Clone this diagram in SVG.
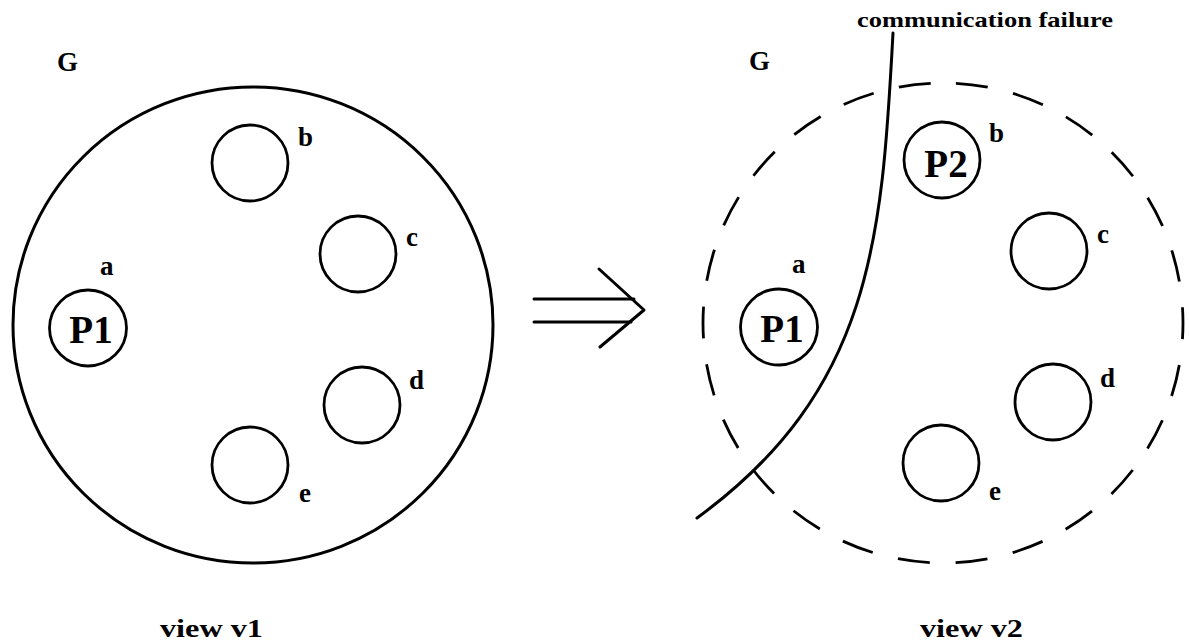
<svg xmlns="http://www.w3.org/2000/svg" width="1189" height="642" viewBox="0 0 1189 642">
<style>
  .bg { fill: #ffffff; }
  .node { fill: none; stroke: #000; stroke-width: 2.8; }
  .outer { fill: none; stroke: #000; stroke-width: 3; }
  .dashed { fill: none; stroke: #000; stroke-width: 2.8; stroke-dasharray: 32 26; stroke-dashoffset: 45; }
  .line { fill: none; stroke: #000; stroke-width: 3; stroke-linecap: round; stroke-linejoin: round; }
  text { font-family: "Liberation Serif", "Times New Roman", serif; font-weight: bold; fill: #000; }
  .lbl { font-size: 27px; }
  .proc { font-size: 39px; text-anchor: middle; }
  .cap { font-size: 26px; }
  .note { font-size: 21px; }
</style>
<rect class="bg" x="0" y="0" width="1189" height="642"/>

<!-- View v1 -->
<g id="view-v1">
  <text class="lbl" x="57" y="71">G</text>
  <ellipse id="group-G1" class="outer" cx="253" cy="325" rx="240" ry="238"/>
  <g id="v1-node-a">
    <ellipse class="node" cx="88" cy="328" rx="38.5" ry="38"/>
    <text class="proc" x="91" y="343">P1</text>
    <text class="lbl" x="100" y="275">a</text>
  </g>
  <g id="v1-node-b">
    <circle class="node" cx="250" cy="163" r="38"/>
    <text class="lbl" x="298" y="146">b</text>
  </g>
  <g id="v1-node-c">
    <circle class="node" cx="358" cy="254" r="38"/>
    <text class="lbl" x="406" y="246">c</text>
  </g>
  <g id="v1-node-d">
    <circle class="node" cx="362" cy="405" r="38"/>
    <text class="lbl" x="409" y="389">d</text>
  </g>
  <g id="v1-node-e">
    <circle class="node" cx="250" cy="465" r="38"/>
    <text class="lbl" x="299" y="502">e</text>
  </g>
  <text class="cap" x="160" y="637" textLength="103" lengthAdjust="spacingAndGlyphs">view v1</text>
</g>

<!-- View v2 -->
<g id="view-v2">
  <text class="lbl" x="749" y="70">G</text>
  <path id="group-G2" class="dashed" d="M943,83 A240,240 0 1,1 943,563 A240,240 0 1,1 943,83 Z"/>
  <g id="v2-node-a">
    <ellipse class="node" cx="779" cy="327" rx="38.5" ry="38"/>
    <text class="proc" x="782" y="342">P1</text>
    <text class="lbl" x="792" y="273">a</text>
  </g>
  <g id="v2-node-b">
    <circle class="node" cx="942" cy="160" r="38"/>
    <text class="proc" x="946" y="177">P2</text>
    <text class="lbl" x="989" y="142">b</text>
  </g>
  <g id="v2-node-c">
    <circle class="node" cx="1049" cy="251" r="38"/>
    <text class="lbl" x="1097" y="243">c</text>
  </g>
  <g id="v2-node-d">
    <circle class="node" cx="1053" cy="402" r="38"/>
    <text class="lbl" x="1100" y="387">d</text>
  </g>
  <g id="v2-node-e">
    <circle class="node" cx="941" cy="463" r="38"/>
    <text class="lbl" x="989" y="500">e</text>
  </g>
  <text class="cap" x="920" y="637" textLength="103" lengthAdjust="spacingAndGlyphs">view v2</text>
  <text class="note" x="857" y="27" textLength="256" lengthAdjust="spacingAndGlyphs">communication failure</text>
</g>

<!-- Connectors -->
<g id="connectors">
  <g id="transition-arrow">
    <line class="line" x1="534" y1="299" x2="634" y2="299"/>
    <line class="line" x1="534" y1="322" x2="631" y2="322"/>
    <polyline class="line" points="599,269 644,310 600,347"/>
  </g>
  <path id="failure-line" class="line" d="M893,33 C882,240 872,390 697,518"/>
</g>
</svg>
